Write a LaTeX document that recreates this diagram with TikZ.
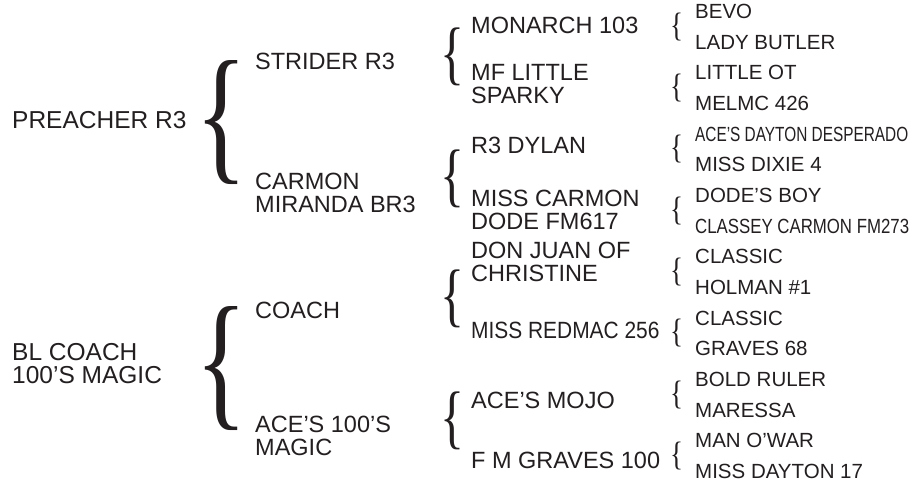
\documentclass[tikz,border=0pt]{standalone}
\usepackage{fontspec}
\setmainfont{Liberation Sans}
\newfontfamily\bracefont{Liberation Serif}
\definecolor{ink}{RGB}{35,31,32}
\newcommand{\curly}[2]{\resizebox*{#1}{#2}{\bracefont\{}}
\newcommand{\narrow}[2]{\scalebox{#1}[1]{#2}}

\begin{document}
\begin{tikzpicture}[x=1pt, y=-1pt,
    every node/.style={inner sep=0pt, text=ink},
    sire/.style={anchor=west, align=left, font=\fontsize{23.5}{22.5}\selectfont},
    grand/.style={anchor=west, font=\fontsize{20.5}{21}\selectfont}
  ]
  \fill[white] (0,0) rectangle (923,486);
  \useasboundingbox (0,0) rectangle (923,486);

  % first generation
  \node[sire, font=\fontsize{24.5}{23}\selectfont] (a) at (12,120) {PREACHER R3};
  \node[sire, font=\fontsize{24.5}{23}\selectfont] (b) at (12,364) {BL COACH\\100’S MAGIC};
  \node (ab) at (222,123) {\curly{52pt}{124pt}};
  \node (bb) at (222,369) {\curly{52pt}{124pt}};

  % second generation
  \node[sire] (c) at (255,61) {STRIDER R3};
  \node[sire] (d) at (255,193) {CARMON\\MIRANDA BR3};
  \node[sire] (e) at (255,310) {COACH};
  \node[sire] (f) at (255,436) {ACE’S 100’S\\MAGIC};
  \node (cb) at (452,56.5) {\curly{24pt}{58pt}};
  \node (db) at (452,178.5) {\curly{24pt}{58pt}};
  \node (eb) at (452,299) {\curly{24pt}{58pt}};
  \node (fb) at (452,421) {\curly{24pt}{58pt}};

  % third generation
  \node[sire] (h) at (471,25) {MONARCH 103};
  \node[sire] (i) at (471,84) {MF LITTLE\\SPARKY};
  \node[sire] (j) at (471,145) {R3 DYLAN};
  \node[sire] (k) at (471,210) {MISS CARMON\\DODE FM617};
  \node[sire] (l) at (471,262) {DON JUAN OF\\CHRISTINE};
  \node[sire] (m) at (471,330) {\narrow{0.89}{MISS REDMAC 256}};
  \node[sire] (o) at (471,400) {ACE’S MOJO};
  \node[sire] (p) at (471,460) {F M GRAVES 100};
  \foreach \k in {0,...,7}
    \node (q\k) at (676.5,{26.8+61.33*\k}) {\curly{13pt}{28pt}};

  % fourth generation
  \foreach \t [count=\i from 0] in {BEVO, LADY BUTLER, LITTLE OT, MELMC 426,
      {\narrow{0.75}{ACE’S DAYTON DESPERADO}}, MISS DIXIE 4, DODE’S BOY,
      {\narrow{0.82}{CLASSEY CARMON FM273}}, CLASSIC, HOLMAN \#1, CLASSIC,
      GRAVES 68, BOLD RULER, MARESSA, MAN O’WAR, MISS DAYTON 17}
    \node[grand] (g\i) at (695,{11.5+30.67*\i}) {\t};
\end{tikzpicture}
\end{document}
